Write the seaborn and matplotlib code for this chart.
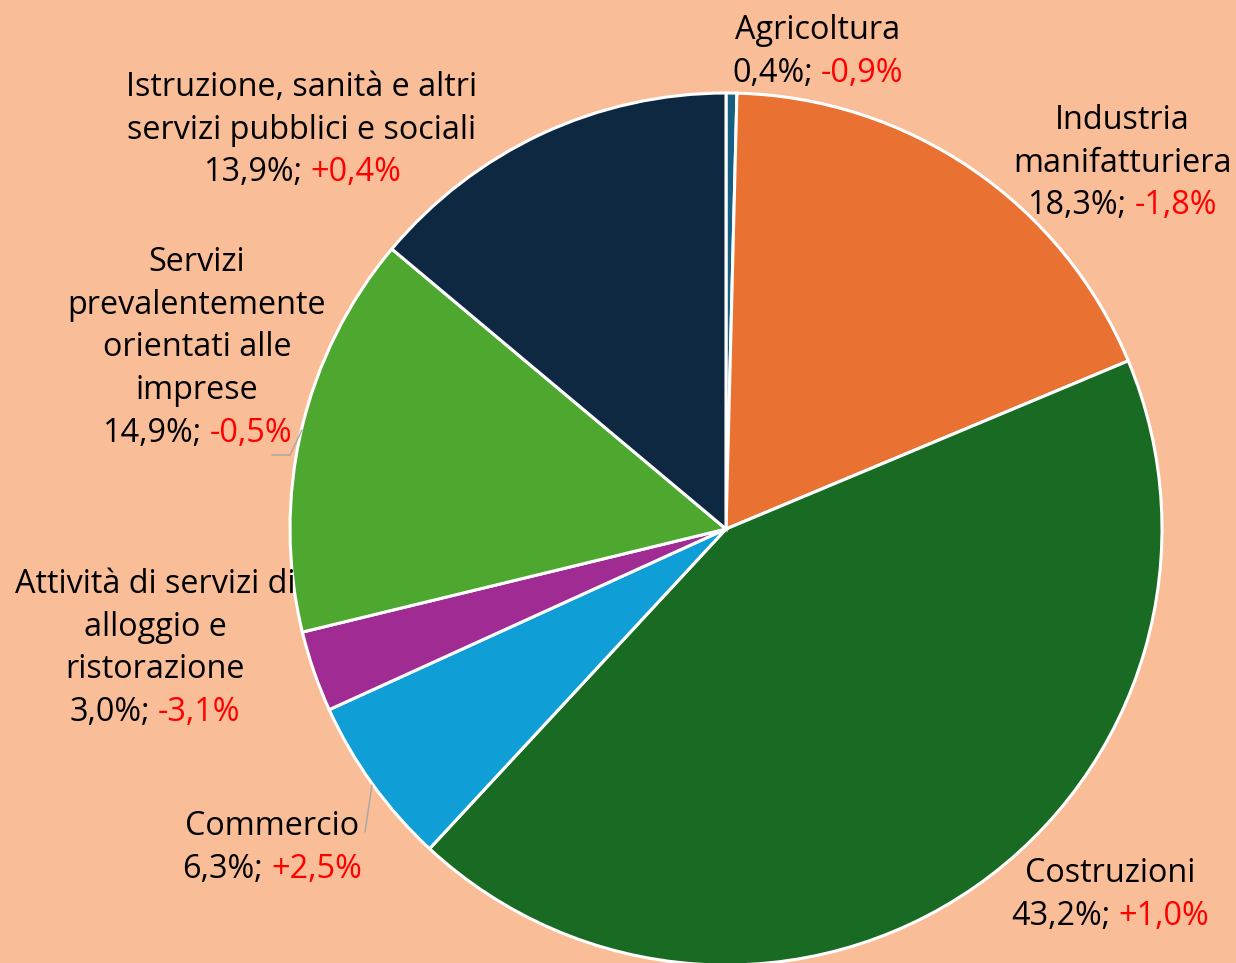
import numpy as np
import seaborn as sns
from matplotlib import pyplot as plt

# data (shares of the sector, yearly change)
sectors = ["Agricoltura",
           "Industria\nmanifatturiera",
           "Costruzioni",
           "Commercio",
           "Attività di servizi di\nalloggio e\nristorazione",
           "Servizi\nprevalentemente\norientati alle\nimprese",
           "Istruzione, sanità e altri\nservizi pubblici e sociali"]
shares = [0.4, 18.3, 43.2, 6.3, 3.0, 14.9, 13.9]
changes = [-0.9, -1.8, 1.0, 2.5, -3.1, -0.5, 0.4]
colors = ["#156082", "#E97132", "#196B24", "#0F9ED5", "#A02B93", "#4EA72E", "#0E2841"]

# label anchors in pixels: centre x, baseline of first line
label_pos = [(818, 39), (1122, 129), (1110, 882), (272, 835),
             (155, 593), (197, 271), (302, 96)]

W, H = 1236, 963
BG = "#F9BD97"

sns.set_theme(style="white")
plt.rcParams['font.family'] = ['Open Sans', 'DejaVu Sans']

fig = plt.figure(figsize=(W / 100, H / 100), dpi=100, facecolor=BG)
ax = fig.add_axes([0, 0, 1, 1])
ax.set_facecolor(BG)

ax.pie(shares, colors=colors, startangle=90, counterclock=False,
       center=(726, H - 529), radius=436,
       wedgeprops=dict(edgecolor='white', linewidth=2.2))
# pie() resets the limits, so put them back to pixel units
ax.set_xlim(0, W)
ax.set_ylim(0, H)
ax.set_aspect('auto')
ax.axis('off')


def fmt(v, sign=False):
    s = f"{abs(v):.1f}".replace('.', ',') + '%'
    if sign:
        return ('+' if v > 0 else '-') + s
    return s


renderer = fig.canvas.get_renderer()
fs = 23.3
dy = 42.7
for name, sh, ch, (x, y) in zip(sectors, shares, changes, label_pos):
    lines = name.split('\n')
    for i, line in enumerate(lines):
        ax.text(x, H - (y + i * dy), line, ha='center', va='baseline',
                fontsize=fs, color='black')
    yl = H - (y + len(lines) * dy)
    black = fmt(sh) + ';'
    red = fmt(ch, sign=True)
    t = ax.text(0, 0, black + ' ' + red, fontsize=fs)
    w = t.get_window_extent(renderer).width
    t.remove()
    ax.text(x - w / 2, yl, black, ha='left', va='baseline', fontsize=fs, color='black')
    ax.text(x + w / 2, yl, red, ha='right', va='baseline', fontsize=fs, color='#FF0000')

# leader lines
ax.plot([302, 290, 272], [H - 430, H - 455, H - 455], color='#A6A6A6', lw=1)
ax.plot([372, 365], [H - 785, H - 832], color='#A6A6A6', lw=1)

fig.savefig('out.png', dpi=100, facecolor=BG)
